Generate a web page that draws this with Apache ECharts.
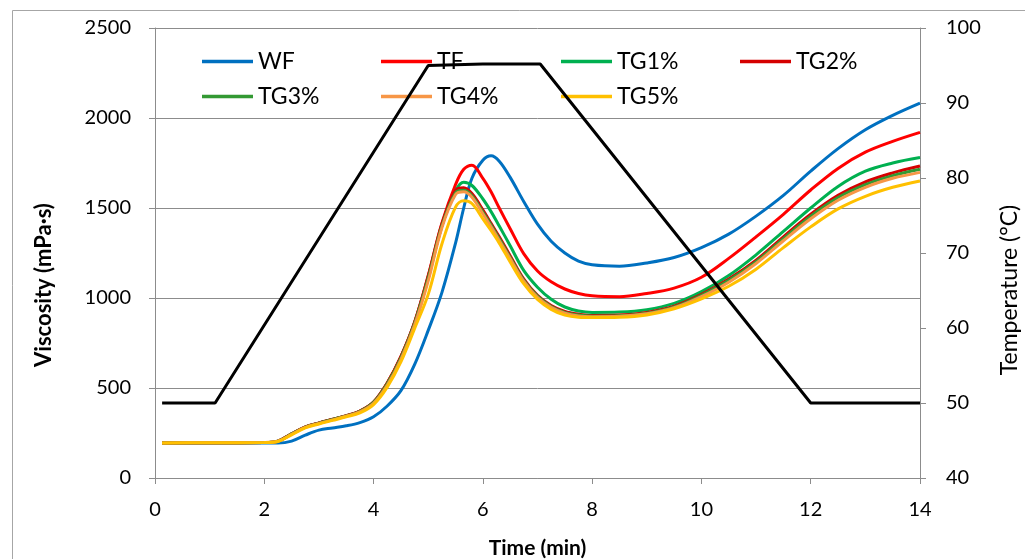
<!DOCTYPE html>
<html>
<head>
<meta charset="utf-8">
<script src="https://cdn.jsdelivr.net/npm/echarts@6/dist/echarts.min.js"></script>
<style>
html,body{margin:0;padding:0;background:#fff;}
#chart{width:1025px;height:559px;}
</style>
</head>
<body>
<div id="chart"></div>
<script>
// ---- data (time in minutes) ----
const time = [0.13, 1, 2, 2.25, 2.5, 2.75, 3, 3.25, 3.5, 3.75, 4, 4.25, 4.5, 4.75, 5, 5.25, 5.5, 5.65, 5.8, 6, 6.15, 6.3, 6.5, 6.75, 7, 7.25, 7.5, 7.75, 8, 8.5, 9, 9.5, 10, 10.5, 11, 11.5, 12, 12.5, 13, 13.5, 14];

const WF  = [195, 195, 195, 194, 205, 238, 266, 278, 290, 308, 340, 400, 485, 630, 820, 1030, 1305, 1500, 1665, 1765, 1790, 1760, 1670, 1535, 1410, 1315, 1250, 1205, 1185, 1177, 1195, 1225, 1280, 1355, 1455, 1570, 1705, 1830, 1935, 2015, 2083];
const TF  = [195, 196, 197, 205, 245, 283, 305, 325, 345, 372, 422, 528, 675, 865, 1125, 1415, 1630, 1715, 1738, 1665, 1590, 1500, 1385, 1245, 1150, 1090, 1050, 1025, 1012, 1007, 1025, 1055, 1115, 1220, 1340, 1465, 1600, 1720, 1810, 1870, 1920];
const TG1 = [195, 196, 197, 205, 245, 283, 305, 325, 345, 370, 420, 525, 670, 860, 1115, 1400, 1595, 1643, 1625, 1550, 1480, 1400, 1290, 1152, 1060, 993, 950, 928, 920, 922, 935, 970, 1035, 1125, 1240, 1370, 1500, 1620, 1705, 1750, 1780];
const TG2 = [195, 196, 197, 205, 246, 284, 306, 326, 346, 372, 422, 528, 674, 864, 1120, 1410, 1597, 1612, 1580, 1490, 1415, 1340, 1235, 1105, 1015, 958, 925, 910, 903, 905, 920, 955, 1020, 1105, 1210, 1340, 1465, 1570, 1645, 1695, 1733];
const TG3 = [195, 196, 197, 205, 245, 283, 305, 325, 345, 370, 420, 524, 668, 858, 1110, 1400, 1585, 1598, 1568, 1478, 1405, 1330, 1225, 1098, 1010, 953, 920, 905, 899, 901, 916, 950, 1015, 1098, 1202, 1330, 1455, 1558, 1630, 1680, 1715];
const TG4 = [195, 196, 197, 204, 243, 281, 303, 323, 343, 367, 415, 515, 658, 848, 1095, 1390, 1575, 1590, 1560, 1468, 1395, 1320, 1218, 1092, 1003, 948, 915, 900, 896, 898, 912, 946, 1008, 1088, 1192, 1318, 1440, 1543, 1615, 1665, 1698];
const TG5 = [195, 196, 197, 203, 240, 278, 300, 320, 340, 362, 408, 505, 645, 830, 1020, 1300, 1505, 1540, 1525, 1440, 1375, 1305, 1200, 1078, 992, 937, 905, 893, 891, 893, 906, 940, 995, 1065, 1160, 1280, 1395, 1495, 1565, 1615, 1650];

const tempTime = [0.13, 1.1, 5.0, 6.0, 7.05, 12.0, 14];
const temp     = [50, 50, 95, 95.2, 95.2, 50, 50];

const seriesNames  = ['WF', 'TF', 'TG1%', 'TG2%', 'TG3%', 'TG4%', 'TG5%'];
const seriesValues = [WF, TF, TG1, TG2, TG3, TG4, TG5];
const seriesColors = ['#0070C0', '#FF0000', '#00B050', '#D50000', '#339933', '#F79646', '#FFC000'];

const xTitle = 'Time (min)';
const yTitleLeft = 'Viscosity (mPa·s)';
const yTitleRight = 'Temperature (°C)';

// ---- chart ----
const FONT = 'Lato';
const chart = echarts.init(document.getElementById('chart'), null, {renderer: 'canvas'});

const pairs = (xs, ys) => xs.map((x, i) => [x, ys[i]]);

const series = seriesNames.map((n, i) => ({
  name: n,
  type: 'line',
  data: pairs(time, seriesValues[i]),
  yAxisIndex: 0,
  showSymbol: false,
  symbol: 'none',
  smooth: 0.35,
  lineStyle: {width: 3, color: seriesColors[i]},
  itemStyle: {color: seriesColors[i]},
  z: 2 + i * 0.01
}));
series.push({
  name: 'Temperature',
  type: 'line',
  data: pairs(tempTime, temp),
  yAxisIndex: 1,
  showSymbol: false,
  symbol: 'none',
  lineStyle: {width: 3, color: '#000'},
  itemStyle: {color: '#000'},
  z: 20
});

const legendPos = [[202, 50], [381, 50], [561, 50], [740, 50], [202, 85], [381, 85], [561, 85]];
const legends = seriesNames.map((n, i) => ({
  data: [n],
  left: legendPos[i][0],
  top: legendPos[i][1],
  icon: 'rect',
  itemWidth: 51,
  itemHeight: 3.5,
  itemGap: 0,
  padding: 0,
  z: 3,
  selectedMode: false,
  textStyle: {fontFamily: FONT, fontSize: 23, color: '#000'}
}));

const gridColor = '#8C8C8C';
const plain = v => String(v);

chart.setOption({
  animation: false,
  backgroundColor: '#fff',
  textStyle: {fontFamily: FONT},
  graphic: [{
    type: 'rect',
    shape: {x: 12.5, y: 10.5, width: 1100, height: 700},
    style: {fill: 'none', stroke: '#A6A6A6', lineWidth: 1},
    silent: true, z: -1
  }, {
    type: 'text', x: 44, y: 285, rotation: Math.PI / 2, silent: true,
    style: {text: yTitleLeft, fontFamily: FONT, fontSize: 22, fontWeight: 'bold', fill: '#000',
            textAlign: 'center', textVerticalAlign: 'middle'}
  }, {
    type: 'text', x: 1010, y: 290, rotation: Math.PI / 2, silent: true,
    style: {text: yTitleRight, fontFamily: FONT, fontSize: 23, fill: '#000',
            textAlign: 'center', textVerticalAlign: 'middle'}
  }],
  legend: legends,
  grid: {left: 155, right: 105, top: 28, bottom: 81, containLabel: false, outerBoundsMode: 'none'},
  xAxis: {
    type: 'value', min: 0, max: 14, interval: 2,
    name: xTitle, nameLocation: 'middle', nameGap: 60,
    nameTextStyle: {fontFamily: FONT, fontSize: 21, fontWeight: 'bold', color: '#000'},
    axisLine: {show: true, onZero: false, lineStyle: {color: gridColor, width: 1}},
    axisTick: {show: true, inside: false, length: 6, lineStyle: {color: gridColor}},
    axisLabel: {fontFamily: FONT, fontSize: 20, color: '#000', margin: 22, formatter: plain},
    splitLine: {show: false}
  },
  yAxis: [{
    type: 'value', min: 0, max: 2500, interval: 500, position: 'left',
    axisLine: {show: true, lineStyle: {color: gridColor, width: 1}},
    axisTick: {show: true, inside: false, length: 6, lineStyle: {color: gridColor}},
    axisLabel: {fontFamily: FONT, fontSize: 20, color: '#000', margin: 24, formatter: plain},
    splitLine: {show: true, lineStyle: {color: gridColor, width: 1}}
  }, {
    type: 'value', min: 40, max: 100, interval: 10, position: 'right',
    axisLine: {show: true, lineStyle: {color: gridColor, width: 1}},
    axisTick: {show: true, inside: false, length: 6, lineStyle: {color: gridColor}},
    axisLabel: {fontFamily: FONT, fontSize: 20, color: '#000', margin: 26, formatter: plain},
    splitLine: {show: false}
  }],
  series: series
});
</script>
</body>
</html>
